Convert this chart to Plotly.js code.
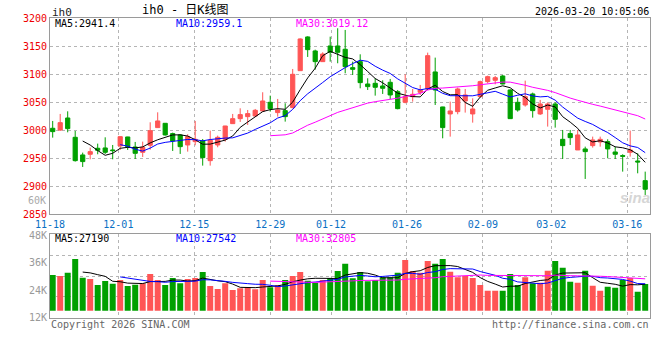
<!DOCTYPE html>
<html><head><meta charset="utf-8">
<script src="https://cdn.plot.ly/plotly-3.0.1.min.js"></script>
<style>html,body{margin:0;padding:0;background:#fff;}#chart{width:660px;height:360px;}</style>
</head><body><div id="chart"></div>
<script>
// ---- data ----
const opens = [3003.6,3000.4,3022.0,2987.5,2956.0,2957.2,2967.9,2968.5,2964.9,2972.0,
 2988.1,2970.2,2960.7,2973.2,3004.8,3012.5,2994.1,2991.7,2973.8,2979.8,
 2981.0,2945.8,2973.8,2983.9,3011.9,3020.8,3024.4,3025.6,3034.5,3050.0,
 3031.6,3035.1,3040.5,3106.5,3166.7,3141.7,3122.6,3150.6,3150.6,3144.7,
 3111.9,3122.6,3082.7,3083.9,3079.2,3085.7,3069.0,3050.0,3060.1,3067.9,
 3073.8,3104.2,3041.7,3029.2,3033.3,3052.4,3029.2,3060.1,3086.9,3089.3,
 3097.0,3072.0,3050.0,3045.2,3064.9,3029.2,3037.5,3047.0,2983.9,2994.1,
 2964.9,2966.7,2972.6,2979.2,2979.8,2961.3,2954.8,2960.7,2945.2,2910.1];
const highs = [3016.7,3029.2,3033.9,2998.8,2960.1,2969.1,2976.2,2987.5,2973.8,2989.2,
 2988.4,2979.2,2979.8,3014.3,3032.1,3012.8,2995.8,2992.9,2992.9,3016.7,
 2984.5,2999.4,2990.5,3007.9,3029.2,3039.3,3036.3,3038.1,3067.9,3061.9,
 3056.0,3048.2,3109.5,3164.3,3167.9,3144.0,3139.3,3167.2,3182.2,3179.2,
 3122.6,3135.7,3092.9,3092.9,3089.3,3091.7,3072.0,3100.0,3073.8,3081.0,
 3138.7,3129.8,3042.0,3051.2,3076.2,3073.8,3057.1,3088.7,3097.6,3097.0,
 3098.8,3073.2,3058.3,3088.7,3067.3,3054.2,3050.0,3050.0,3000.6,3000.6,
 3000.6,2970.8,2988.7,2988.7,2983.9,2970.8,2957.2,2999.4,2958.9,2926.2];
const lows = [2986.9,2999.0,2996.4,2944.1,2934.5,2948.2,2957.2,2957.8,2948.2,2964.9,
 2964.9,2948.8,2952.4,2965.5,3004.2,2990.5,2963.1,2957.8,2961.9,2973.2,
 2936.9,2936.9,2969.7,2979.8,3011.5,3014.9,3009.5,3024.4,3033.3,3033.3,
 3024.4,3015.5,3039.3,3106.0,3131.0,3108.3,3122.0,3122.6,3119.7,3101.8,
 3098.8,3075.0,3072.0,3061.9,3064.9,3056.0,3037.5,3048.2,3051.2,3063.1,
 3072.6,3045.2,2985.7,2988.7,3028.6,3031.6,3013.7,3058.9,3083.9,3082.1,
 3082.1,3020.2,3033.3,3042.3,3022.6,3027.4,3006.6,3004.8,2948.8,2973.8,
 2964.9,2913.1,2969.1,2970.8,2950.0,2948.8,2926.2,2953.0,2923.2,2884.5];
const closes = [2997.6,3013.7,3003.0,2945.8,2944.1,2961.9,2964.3,2960.7,2963.7,2988.7,
 2970.8,2958.9,2969.7,2999.4,3016.7,2991.7,2981.0,2970.8,2988.7,2983.9,
 2951.2,2982.2,2987.5,3007.7,3020.8,3028.0,3029.8,3035.7,3052.4,3038.7,
 3036.3,3024.4,3100.0,3163.1,3144.0,3122.6,3136.3,3139.3,3139.3,3113.6,
 3108.9,3085.1,3078.0,3076.8,3075.0,3063.1,3038.7,3060.1,3064.3,3072.0,
 3133.3,3072.0,3004.8,3034.5,3073.8,3063.1,3038.1,3086.9,3095.8,3094.0,
 3082.7,3020.8,3036.3,3060.1,3035.1,3047.0,3047.0,3019.6,2972.6,2986.9,
 2991.7,2961.9,2982.8,2983.9,2966.7,2957.2,2953.6,2964.9,2943.5,2894.7];
const volumes = [30690,30250,31710,37690,29520,28940,26310,28060,26890,28500,
 25870,26460,27040,31120,28500,26310,29370,27040,28940,29370,
 32000,25870,24560,27040,24120,24850,25290,24410,28500,25290,
 26160,28500,30250,32000,28210,27330,28500,29370,32440,35650,
 29230,32000,27920,28500,29670,29670,31710,37250,32440,31710,
 36810,35650,37690,32150,29670,30250,29370,26310,23830,23830,
 23830,31120,26310,29670,27040,27330,32580,36810,33900,27770,
 27330,32580,26020,23830,25580,25140,28500,29370,23390,26750];
const tickIdx = [0,9,19,29,37,47,57,66,76];
const tickLabels = ['11-18','12-01','12-15','12-29','01-12','01-26','02-09','03-02','03-16'];
const priceTicks = [2850,2900,2950,3000,3050,3100,3150,3200];
const volTicks = [12000,24000,36000,48000];
const volTickLabels = ['12K','24K','36K','48K'];
const priceHeader = ['MA5:2941.4','MA10:2959.1','MA30:3019.12'];
const volHeader = ['MA5:27190','MA10:27542','MA30:32805'];

// ---- derived ----
const idx = closes.map((_, i) => i);
function movingAvg(arr, n) {
  return arr.map((_, i) => i < n - 1 ? null : arr.slice(i - n + 1, i + 1).reduce((a, b) => a + b, 0) / n);
}
const RED = '#ff5555', GREEN = '#00a000';
const MA_COLORS = ['#000000', '#0000ff', '#ff00ff'];
const MA_N = [5, 10, 30];
const volFloor = 15080;
const barColors = closes.map((c, i) => c >= opens[i] ? RED : GREEN);

const traces = [{
  type: 'candlestick', x: idx, open: opens, high: highs, low: lows, close: closes,
  xaxis: 'x', yaxis: 'y', whiskerwidth: 0,
  increasing: {line: {color: RED, width: 1}, fillcolor: RED},
  decreasing: {line: {color: GREEN, width: 1}, fillcolor: GREEN},
  hoverinfo: 'skip', showlegend: false
}];
MA_N.forEach((n, k) => traces.push({
  type: 'scatter', mode: 'lines', x: idx, y: movingAvg(closes, n), xaxis: 'x', yaxis: 'y',
  line: {color: MA_COLORS[k], width: 1}, hoverinfo: 'skip', showlegend: false
}));
traces.push({
  type: 'bar', x: idx, y: volumes.map(v => v - volFloor), base: volFloor,
  xaxis: 'x3', yaxis: 'y2', marker: {color: barColors, line: {width: 0}},
  hoverinfo: 'skip', showlegend: false
});
MA_N.forEach((n, k) => traces.push({
  type: 'scatter', mode: 'lines', x: idx, y: movingAvg(volumes, n), xaxis: 'x3', yaxis: 'y2',
  line: {color: MA_COLORS[k], width: 1}, hoverinfo: 'skip', showlegend: false
}));
// empty traces so overlay grid axes exist
traces.push({type: 'scatter', x: [], y: [], xaxis: 'x2', yaxis: 'y', showlegend: false});
traces.push({type: 'scatter', x: [], y: [], xaxis: 'x4', yaxis: 'y2', showlegend: false});
traces.push({type: 'scatter', x: [], y: [], xaxis: 'x3', yaxis: 'y3', showlegend: false});

const H = 360, L = 50, W = 600;
const px = X => (X - L) / W;
const py = Y => 1 - Y / H;
const MONO = 'DejaVu Sans Mono, monospace';
const priceDom = [py(214.3), py(18.3)];
const volDom = [py(317.7), py(234.3)];
const FRAME = '#9a9a9a', GRID = '#b5b5b5';
const candleRange = [-0.36, 79.64];
const gridRange = [-0.001, 79];

function ann(text, X, Y, color, anchor, size, family) {
  return {text: text, x: px(X), y: py(Y), xref: 'paper', yref: 'paper', showarrow: false,
    xanchor: anchor || 'left', yanchor: 'middle', borderpad: 0,
    font: {family: family || MONO, size: size || 10, color: color || '#000'}};
}

const layout = {
  width: 660, height: 360, margin: {l: 50, r: 10, t: 0, b: 0},
  paper_bgcolor: '#fff', plot_bgcolor: '#fff', showlegend: false, hovermode: false,
  bargap: 0.2, boxgap: 0.2,
  xaxis: {domain: [0, 1], anchor: 'y', range: candleRange, showgrid: false, zeroline: false,
    showticklabels: false, ticks: '', showline: true, mirror: true, linecolor: FRAME, linewidth: 1,
    rangeslider: {visible: false}, fixedrange: true},
  xaxis2: {overlaying: 'x', anchor: 'y', side: 'bottom', range: gridRange, tickmode: 'array',
    tickvals: tickIdx, ticktext: tickLabels, showgrid: true, gridcolor: GRID, griddash: 'dot', gridwidth: 1,
    zeroline: false, showline: false, ticks: '', ticklabelstandoff: 3,
    tickfont: {family: MONO, size: 10, color: '#0a70c4'}},
  yaxis: {domain: priceDom, anchor: 'x', range: [2850, 3200], tickmode: 'array', tickvals: priceTicks,
    showgrid: true, gridcolor: GRID, griddash: 'dot', gridwidth: 1, zeroline: false, ticks: '',
    showline: true, mirror: true, linecolor: FRAME, linewidth: 1,
    tickfont: {family: MONO, size: 10, color: '#ee0000'}},
  xaxis3: {domain: [0, 1], anchor: 'y2', range: candleRange, showgrid: false, zeroline: false,
    showticklabels: false, ticks: '', showline: true, mirror: true, linecolor: FRAME, linewidth: 1},
  xaxis4: {overlaying: 'x3', anchor: 'y2', range: gridRange, tickmode: 'array', tickvals: tickIdx,
    showticklabels: false, ticks: '', showgrid: true, gridcolor: GRID, griddash: 'dot', gridwidth: 1,
    zeroline: false, showline: false},
  yaxis2: {domain: volDom, anchor: 'x3', range: [12000, 48500], tickmode: 'array', tickvals: volTicks,
    ticktext: volTickLabels, showgrid: false, zeroline: false, ticks: '',
    showline: true, mirror: true, linecolor: FRAME, linewidth: 1,
    tickfont: {family: MONO, size: 10, color: '#999999'}},
  yaxis3: {overlaying: 'y2', anchor: 'x3', range: [0, 4], dtick: 1, showticklabels: false, ticks: '',
    showgrid: true, gridcolor: GRID, griddash: 'dot', gridwidth: 1, zeroline: false, showline: false},
  annotations: [
    ann('ih0', 51, 12.5, '#222', 'left', 11),
    ann('ih0 - 日K线图', 141, 10, '#000', 'left', 12, 'DejaVu Sans Mono, Noto Sans CJK SC'),
    ann('2026-03-20 10:05:06', 650, 11.5, '#000', 'right', 10),
    ann(priceHeader[0], 54, 23, MA_COLORS[0]),
    ann(priceHeader[1], 175, 23, MA_COLORS[1]),
    ann(priceHeader[2], 295, 23, MA_COLORS[2]),
    ann(volHeader[0], 54, 238.5, MA_COLORS[0]),
    ann(volHeader[1], 175, 238.5, MA_COLORS[1]),
    ann(volHeader[2], 295, 238.5, MA_COLORS[2]),
    ann('60K', 47, 200, '#aaaaaa', 'right'),
    ann('Copyright 2026 SINA.COM', 50, 324, '#666666'),
    ann('http://finance.sina.com.cn', 650, 324, '#666666', 'right'),
    ann('<b><i>sina</i></b>', 651, 197, '#d6d6d6', 'right', 15, 'Liberation Sans, Arial')
  ]
};
Plotly.newPlot('chart', traces, layout, {staticPlot: true, displayModeBar: false});
</script></body></html>
